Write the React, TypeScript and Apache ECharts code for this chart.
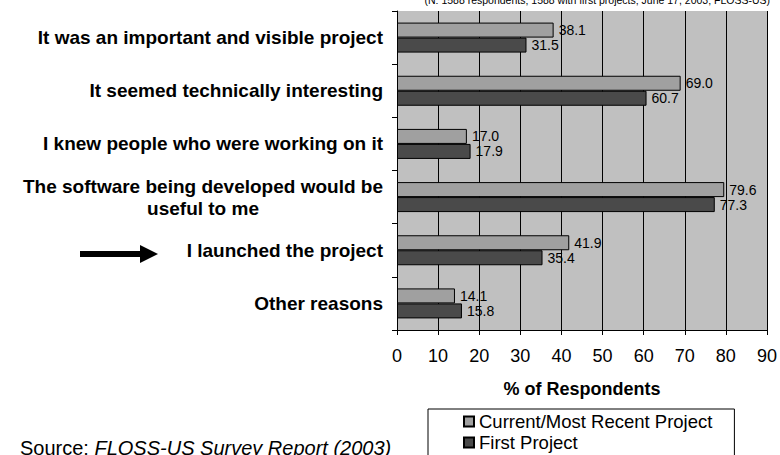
import React, { useEffect, useRef } from "react";
import * as echarts from "echarts";

const categories = [
  "It was an important and visible project",
  "It seemed technically interesting",
  "I knew people who were working on it",
  "The software being developed would be\nuseful to me",
  "I launched the project",
  "Other reasons",
];
const seriesNames = ["Current/Most Recent Project", "First Project"];
const currentValues = [38.1, 69.0, 17.0, 79.6, 41.9, 14.1];
const firstValues = [31.5, 60.7, 17.9, 77.3, 35.4, 15.8];
const xTicks = { min: 0, max: 90, interval: 10 };
const axisTitle = "% of Respondents";
const topNote = "(N: 1588 respondents; 1588 with first projects; June 17, 2003; FLOSS-US)";
const sourcePrefix = "Source: ";
const sourceTitle = "FLOSS-US Survey Report (2003)";

const FONT = "'Liberation Sans', Arial, Helvetica, sans-serif";

export default function App() {
  const ref = useRef<HTMLDivElement>(null);
  useEffect(() => {
    if (!ref.current) return;
    const chart = echarts.init(ref.current, undefined, { renderer: "svg" });
    const labelStyle = {
      show: true,
      position: "right" as const,
      distance: 5,
      color: "#000",
      fontSize: 14,
      fontFamily: FONT,
      formatter: (p: any) => Number(p.value).toFixed(1),
    };
    chart.setOption({
      animation: false,
      backgroundColor: "#fff",
      textStyle: { fontFamily: FONT },
      grid: {
        left: 397,
        right: 7,
        top: 11,
        bottom: 125,
        show: true,
        backgroundColor: "#C0C0C0",
        borderWidth: 0,
      },
      legend: {
        orient: "vertical",
        left: 428,
        top: 409,
        height: 90,
        padding: [3, 22, 10, 35],
        itemGap: 2,
        itemWidth: 10,
        itemHeight: 10,
        icon: "rect",
        backgroundColor: "#fff",
        borderColor: "#000",
        borderWidth: 1,
        borderRadius: 0,
        textStyle: { fontSize: 18.5, color: "#000", fontFamily: FONT },
        data: seriesNames,
      },
      xAxis: {
        type: "value",
        min: xTicks.min,
        max: xTicks.max,
        interval: xTicks.interval,
        name: axisTitle,
        nameLocation: "middle",
        nameGap: 50,
        nameTextStyle: { fontSize: 18, fontWeight: "bold", color: "#000", fontFamily: FONT },
        axisLine: { show: true, lineStyle: { color: "#000", width: 1 } },
        axisTick: { show: true, length: 5, lineStyle: { color: "#000" } },
        axisLabel: { fontSize: 18, color: "#000", margin: 17, fontFamily: FONT },
        splitLine: { show: true, lineStyle: { color: "#000", width: 1 } },
      },
      yAxis: {
        type: "category",
        inverse: true,
        data: categories,
        axisLine: { show: true, lineStyle: { color: "#000", width: 1 } },
        axisTick: { show: true, length: 5, lineStyle: { color: "#000" } },
        axisLabel: {
          margin: 14,
          fontSize: 19,
          fontWeight: "bold",
          color: "#000",
          fontFamily: FONT,
          lineHeight: 22,
          formatter: (v: string) => {
            const parts = v.split("\n");
            if (parts.length === 1) return v;
            return `{a|${parts[0]}}\n{b|${parts[1]}}`;
          },
          rich: {
            a: { fontSize: 19, fontWeight: "bold", color: "#000", fontFamily: FONT, lineHeight: 22, align: "right" },
            b: { fontSize: 19, fontWeight: "bold", color: "#000", fontFamily: FONT, lineHeight: 22, align: "center" },
          },
        },
      },
      series: [
        {
          name: seriesNames[0],
          type: "bar",
          data: currentValues,
          barWidth: 15,
          barGap: "0%",
          itemStyle: { color: "#A0A0A0", borderColor: "#000", borderWidth: 1 },
          label: labelStyle,
        },
        {
          name: seriesNames[1],
          type: "bar",
          data: firstValues,
          barWidth: 15,
          barGap: "0%",
          itemStyle: { color: "#4A4A4A", borderColor: "#000", borderWidth: 1 },
          label: labelStyle,
        },
      ],
      graphic: [
        {
          type: "text",
          x: 770,
          y: 0,
          style: {
            text: topNote,
            fontSize: 10.5,
            fontFamily: FONT,
            fill: "#000",
            align: "right",
            verticalAlign: "middle",
          },
        },
        {
          type: "rect",
          shape: { x: 80, y: 251, width: 62, height: 6 },
          style: { fill: "#000" },
        },
        {
          type: "polygon",
          shape: { points: [[140, 245], [158, 254], [140, 263]] },
          style: { fill: "#000" },
        },
        {
          type: "text",
          x: 20,
          y: 448,
          style: {
            text: `{r|${sourcePrefix}}{i|${sourceTitle}}`,
            verticalAlign: "middle",
            rich: {
              r: { fontSize: 20, fontFamily: FONT, fill: "#000" },
              i: { fontSize: 20, fontFamily: FONT, fill: "#000", fontStyle: "italic" },
            },
          },
        },
      ],
    });
    return () => chart.dispose();
  }, []);
  return (
    <div
      ref={ref}
      style={{ position: "fixed", left: 0, top: 0, width: 780, height: 455 }}
    />
  );
}
